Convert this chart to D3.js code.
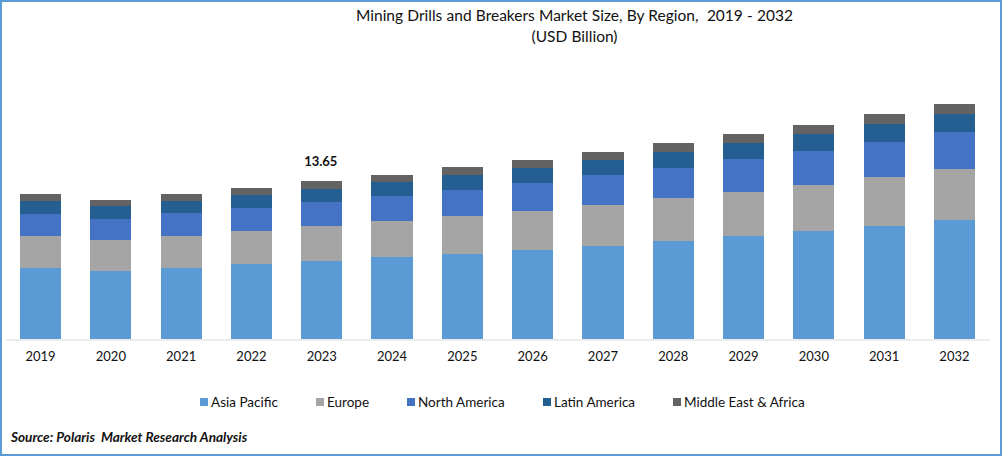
<!DOCTYPE html>
<meta charset="utf-8">
<style>
html, body { margin: 0; padding: 0; background: #fff; }
text { font-family: Lato, "Open Sans", sans-serif; fill: #111; }
.title { font-size: 15.5px; white-space: pre; word-spacing: 0.25px; }
.tick text { font-size: 13px; }
.legend text { font-size: 13.5px; }
.source { font-size: 13.6px; font-weight: bold; font-style: italic; white-space: pre; }
.total { font-size: 13px; font-weight: bold; }
</style>
<body></body>
<script src="https://d3js.org/d3.v7.min.js"></script>
<script>

var years = ["2019","2020","2021","2022","2023","2024","2025","2026","2027","2028","2029","2030","2031","2032"];
var regions = ["Asia Pacific","Europe","North America","Latin America","Middle East & Africa"];
var colors = ["#5b9bd5","#a5a5a5","#4472c4","#255e91","#636363"];

var asiaPacific = [6.13,5.87,6.13,6.48,6.74,7.08,7.34,7.69,8.03,8.47,8.90,9.33,9.76,10.28];
var europe = [2.76,2.68,2.76,2.85,3.02,3.11,3.28,3.37,3.54,3.71,3.80,3.97,4.23,4.41];
var northAmerica = [1.90,1.81,1.99,1.99,2.07,2.16,2.25,2.42,2.59,2.59,2.85,2.94,3.02,3.20];
var latinAmerica = [1.12,1.12,1.04,1.12,1.12,1.21,1.30,1.30,1.30,1.38,1.38,1.47,1.56,1.56];
var middleEast = [0.60,0.52,0.60,0.60,0.70,0.60,0.69,0.69,0.69,0.78,0.78,0.78,0.86,0.86];

var totalLabelYear = "2023";
var totalLabel = "13.65";

var width = 1002, height = 456;

var svg = d3.select("body").append("svg")
    .attr("width", width)
    .attr("height", height)
    .style("display", "block");

// frame
svg.append("rect")
    .attr("x", 1).attr("y", 1)
    .attr("width", width - 2).attr("height", height - 2)
    .attr("fill", "#fff")
    .attr("stroke", "#5b9bd5")
    .attr("stroke-width", 2);

var x = d3.scaleBand()
    .domain(years)
    .range([5.4, 989.6])
    .paddingInner(0.415)
    .paddingOuter(0.2075);

// 2023 total of 13.65 stands 158px tall
var y = d3.scaleLinear()
    .domain([0, 13.65])
    .range([339, 181]);

var table = years.map(function(d, i) {
  return { year: d, 0: asiaPacific[i], 1: europe[i], 2: northAmerica[i], 3: latinAmerica[i], 4: middleEast[i] };
});

var stacked = d3.stack().keys([0, 1, 2, 3, 4])(table);

svg.append("g").selectAll("g")
    .data(stacked)
    .enter().append("g")
      .attr("fill", function(d) { return colors[d.key]; })
    .selectAll("rect")
    .data(function(d) { return d; })
    .enter().append("rect")
      .attr("x", function(d) { return x(d.data.year); })
      .attr("width", x.bandwidth())
      .attr("y", function(d) { return y(d[1]); })
      .attr("height", function(d) { return y(d[0]) - y(d[1]); })
      .attr("shape-rendering", "crispEdges");

var axis = svg.append("g")
    .attr("transform", "translate(0,339.5)")
    .call(d3.axisBottom(x).tickSize(0).tickPadding(12));
axis.select(".domain").attr("stroke", "#d9d9d9").attr("stroke-width", 1);

svg.append("text")
    .attr("class", "total")
    .attr("x", x(totalLabelYear) + x.bandwidth() / 2 - 1)
    .attr("y", 166)
    .attr("text-anchor", "middle")
    .text(totalLabel);

var title = svg.append("text")
    .attr("class", "title")
    .attr("text-anchor", "middle");
title.append("tspan").attr("x", 574.5).attr("y", 21).text("Mining Drills and Breakers Market Size, By Region,  2019 - 2032");
title.append("tspan").attr("x", 574.5).attr("y", 42).text("(USD Billion)");

// legend runs left to right, each entry pushed along by the width of the one before
var legend = svg.append("g").attr("class", "legend");
var legendX = 200;
regions.forEach(function(name, i) {
  legend.append("rect")
      .attr("x", Math.round(legendX)).attr("y", 398)
      .attr("width", 8).attr("height", 8)
      .attr("fill", colors[i]);
  var label = legend.append("text")
      .attr("x", Math.round(legendX) + 11).attr("y", 407)
      .text(name);
  legendX += 11 + label.node().getComputedTextLength() + 38;
});

svg.append("text")
    .attr("class", "source")
    .attr("x", 11)
    .attr("y", 441.5)
    .text("Source: Polaris  Market Research Analysis");

</script>
